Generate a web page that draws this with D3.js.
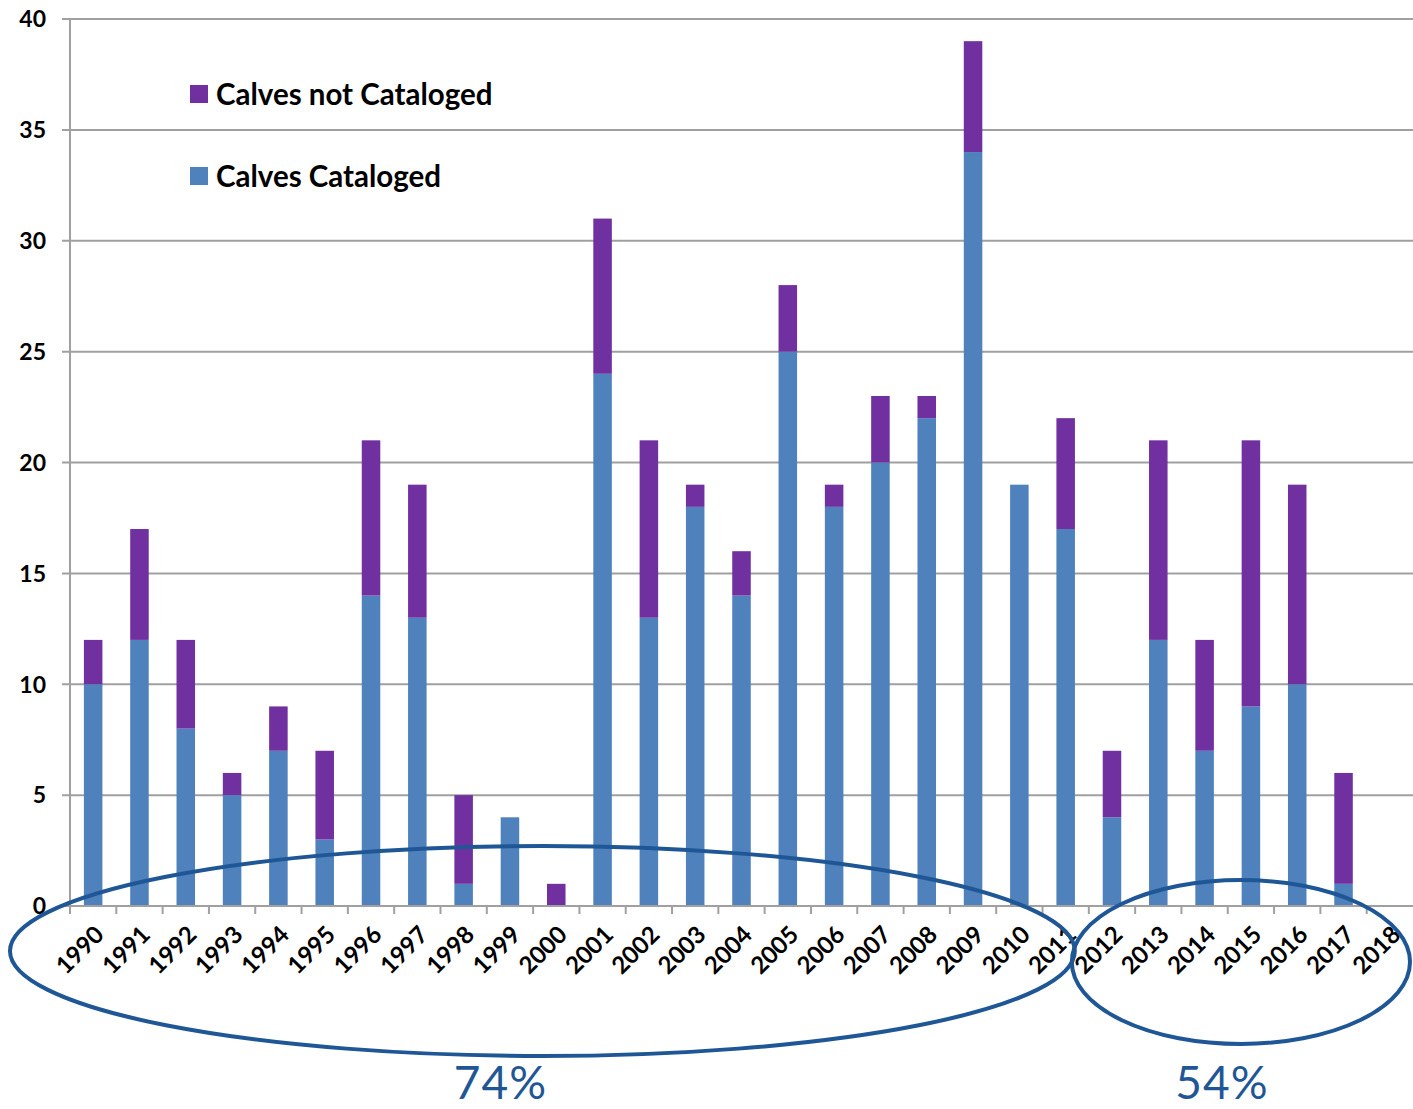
<!DOCTYPE html>
<html>
<head>
<meta charset="utf-8">
<script src="https://cdn.jsdelivr.net/npm/d3@7"></script>
<style>
  body { margin: 0; background: #fff; }
  svg text { font-family: Lato, "Open Sans", sans-serif; }
</style>
</head>
<body>
<svg class="graph" width="1413" height="1109"></svg>
<script>
var years = ['1990','1991','1992','1993','1994','1995','1996','1997','1998','1999','2000',
  '2001','2002','2003','2004','2005','2006','2007','2008','2009','2010','2011','2012',
  '2013','2014','2015','2016','2017','2018'];
var cataloged    = [10,12,8,5,7,3,14,13,1,4,0,24,13,18,14,25,18,20,22,34,19,17,4,12,7,9,10,1,0];
var notCataloged = [2,5,4,1,2,4,7,6,4,0,1,7,8,1,2,3,1,3,1,5,0,5,3,9,5,12,9,5,0];
var yTicks = [0,5,10,15,20,25,30,35,40];
var seriesNames = ['Calves Cataloged','Calves not Cataloged'];
var colors = ['#4f81bd','#7030a0'];
// the two groups circled under the axis and their share
var groups = [
  {label: '74%', from: '1990', to: '2011'},
  {label: '54%', from: '2012', to: '2018'}
];

var svg = d3.select('svg.graph'),
  margin = {top: 19, right: 0, bottom: 203, left: 70},
  width = +svg.attr('width') - margin.left - margin.right,
  height = +svg.attr('height') - margin.top - margin.bottom,
  g = svg.append('g').attr('transform', 'translate(' + margin.left + ',' + margin.top + ')');

var x = d3.scaleBand().domain(years).range([0, width]).paddingInner(0.6).paddingOuter(0.3);
var xb = d3.scaleBand().domain(years).range([0, width]);
var y = d3.scaleLinear().domain([0, 40]).range([height, 0]);

// grid
g.append('g').selectAll('line').data(yTicks.filter(function(d) { return d > 0; }))
  .enter().append('line')
    .attr('x1', -8).attr('x2', width)
    .attr('y1', function(d) { return y(d); }).attr('y2', function(d) { return y(d); })
    .attr('stroke', '#a0a0a0').attr('stroke-width', 2);

// stacked bars
var data = years.map(function(yr, i) { return {year: yr, c: cataloged[i], n: notCataloged[i]}; });
var stack = d3.stack().keys(['c', 'n'])(data);
g.append('g').selectAll('g').data(stack).enter().append('g')
    .attr('fill', function(d, i) { return colors[i]; })
  .selectAll('rect').data(function(d) { return d; }).enter().append('rect')
    .attr('x', function(d) { return x(d.data.year); })
    .attr('width', x.bandwidth())
    .attr('y', function(d) { return y(d[1]); })
    .attr('height', function(d) { return y(d[0]) - y(d[1]); });

// axes
g.append('line').attr('x1', 0).attr('x2', 0).attr('y1', 0).attr('y2', height)
  .attr('stroke', '#a0a0a0').attr('stroke-width', 2);
g.append('line').attr('x1', -8).attr('x2', width).attr('y1', height).attr('y2', height)
  .attr('stroke', '#a0a0a0').attr('stroke-width', 2);
g.append('g').selectAll('line').data(years).enter().append('line')
    .attr('x1', function(d) { return xb(d); }).attr('x2', function(d) { return xb(d); })
    .attr('y1', height).attr('y2', height + 8)
    .attr('stroke', '#a0a0a0').attr('stroke-width', 2);

g.append('g').selectAll('text').data(yTicks).enter().append('text')
    .attr('x', -24).attr('y', function(d) { return y(d); }).attr('dy', '0.36em')
    .attr('text-anchor', 'end').attr('font-weight', 'bold').attr('font-size', 23)
    .text(function(d) { return d; });

g.append('g').selectAll('text').data(years).enter().append('text')
    .attr('transform', function(d) {
      return 'translate(' + (xb(d) + xb.bandwidth() / 2) + ',' + (height + 18) + ') rotate(-45)';
    })
    .attr('text-anchor', 'end').attr('dy', '0.72em')
    .attr('font-weight', 'bold').attr('font-size', 24)
    .text(function(d) { return d; });

// legend
var legend = svg.append('g');
[1, 0].forEach(function(k, i) {
  legend.append('rect').attr('x', 190).attr('y', 85 + i * 82).attr('width', 18).attr('height', 18)
    .attr('fill', colors[k]);
  legend.append('text').attr('x', 216).attr('y', 94 + i * 82).attr('dy', '0.36em')
    .attr('font-weight', 'bold').attr('font-size', 29.5)
    .text(seriesNames[k]);
});

// ellipses and percentages
var ell = svg.append('g').attr('transform', 'translate(' + margin.left + ',' + margin.top + ')');
var ellShape = [
  {cy: 951, ry: 105, padL: 60, padR: -14, dx: -42},
  {cy: 962, ry: 82, padL: 17, padR: -3, dx: -19}
];
groups.forEach(function(gr, i) {
  var s = ellShape[i];
  var x0 = xb(gr.from) - s.padL, x1 = xb(gr.to) + xb.bandwidth() + s.padR;
  ell.append('ellipse')
    .attr('cx', (x0 + x1) / 2).attr('cy', s.cy - margin.top)
    .attr('rx', (x1 - x0) / 2).attr('ry', s.ry)
    .attr('fill', 'none').attr('stroke', '#1f5796').attr('stroke-width', 4);
  ell.append('text')
    .attr('x', (x0 + x1) / 2 + s.dx).attr('y', 1099 - margin.top)
    .attr('text-anchor', 'middle').attr('font-size', 46).attr('font-weight', 400)
    .attr('fill', '#1f5796').attr('letter-spacing', 1)
    .text(gr.label);
});
</script>
</body>
</html>
